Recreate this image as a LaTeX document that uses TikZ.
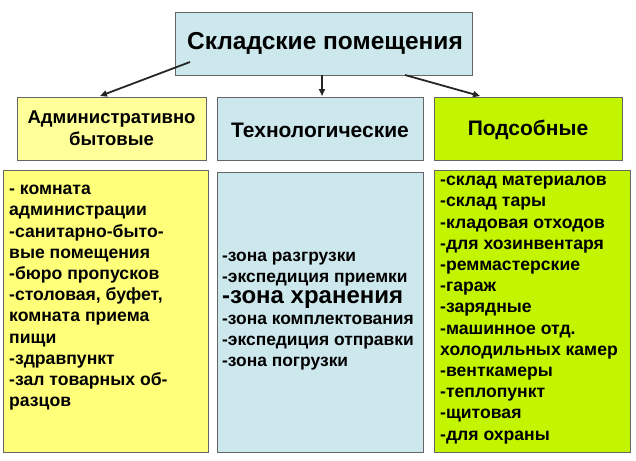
\documentclass[tikz,border=0pt]{standalone}
\usepackage{fontspec}
\setmainfont{Liberation Sans}
\usetikzlibrary{arrows.meta}
\definecolor{cblue}{HTML}{CDE8EC}
\definecolor{cyel}{HTML}{FFFF99}
\definecolor{cyel2}{HTML}{FFFF7A}
\definecolor{cgreen}{HTML}{C4F500}
\begin{document}
\begin{tikzpicture}[x=1pt,y=-1pt,
  box/.style={draw=black!60,line width=0.8pt},
  lst/.style={anchor=north west,align=left,font=\bfseries\fontsize{17.6}{21.2}\selectfont,inner sep=0},
  arr/.style={-{Triangle[length=7pt,width=6pt]},line width=1.8pt,draw=black!85}]
\useasboundingbox (0,0) rectangle (636,460);
\draw[box,fill=cblue] (175,12) rectangle (472,75);
\node (top) at (325,43.5) {\bfseries\fontsize{24.5}{28}\selectfont Складские помещения};
\draw[box,fill=cyel] (17,97) rectangle (206,160);
\node[align=center,font=\bfseries\fontsize{18.5}{22}\selectfont] (h1) at (111.5,128.5) {Административно\\бытовые};
\draw[box,fill=cblue] (217,97) rectangle (423,160);
\node[font=\bfseries\fontsize{21}{24}\selectfont] (h2) at (320,130) {Технологические};
\draw[box,fill=cgreen] (434,97) rectangle (622,160);
\node[font=\bfseries\fontsize{21}{24}\selectfont] (h3) at (528,130) {Подсобные};
\coordinate (a1) at (190,62); \coordinate (b1) at (100,96);
\coordinate (a2) at (322,75); \coordinate (b2) at (322,96);
\coordinate (a3) at (405,75); \coordinate (b3) at (480,96);
\draw[arr] (a1) -- (b1);
\draw[arr] (a2) -- (b2);
\draw[arr] (a3) -- (b3);
\draw[box,fill=cyel2] (3,170) rectangle (208,452);
\draw[box,fill=cblue] (217,172) rectangle (423,452);
\draw[box,fill=cgreen] (434,170) rectangle (630,452);
\node[lst] (l1) at (9,185) {- комната\\администрации\\-санитарно-быто-\\вые помещения\\-бюро пропусков\\-столовая, буфет,\\комната приема\\пищи\\-здравпункт\\-зал товарных об-\\разцов};
\node[lst,font=\bfseries\fontsize{17.4}{21}\selectfont] (l2) at (222,252) {-зона разгрузки\\-экспедиция приемки\\{\fontsize{24}{25}\selectfont -зона хранения}\\-зона комплектования\\-экспедиция отправки\\-зона погрузки};
\node[lst] (l3) at (440,176) {-склад материалов\\-склад тары\\-кладовая отходов\\-для хозинвентаря\\-ремм\-астерские\\-гараж\\-зарядные\\-машинное отд.\\холодильных камер\\-венткамеры\\-теплопункт\\-щитовая\\-для охраны};
\end{tikzpicture}
\end{document}
